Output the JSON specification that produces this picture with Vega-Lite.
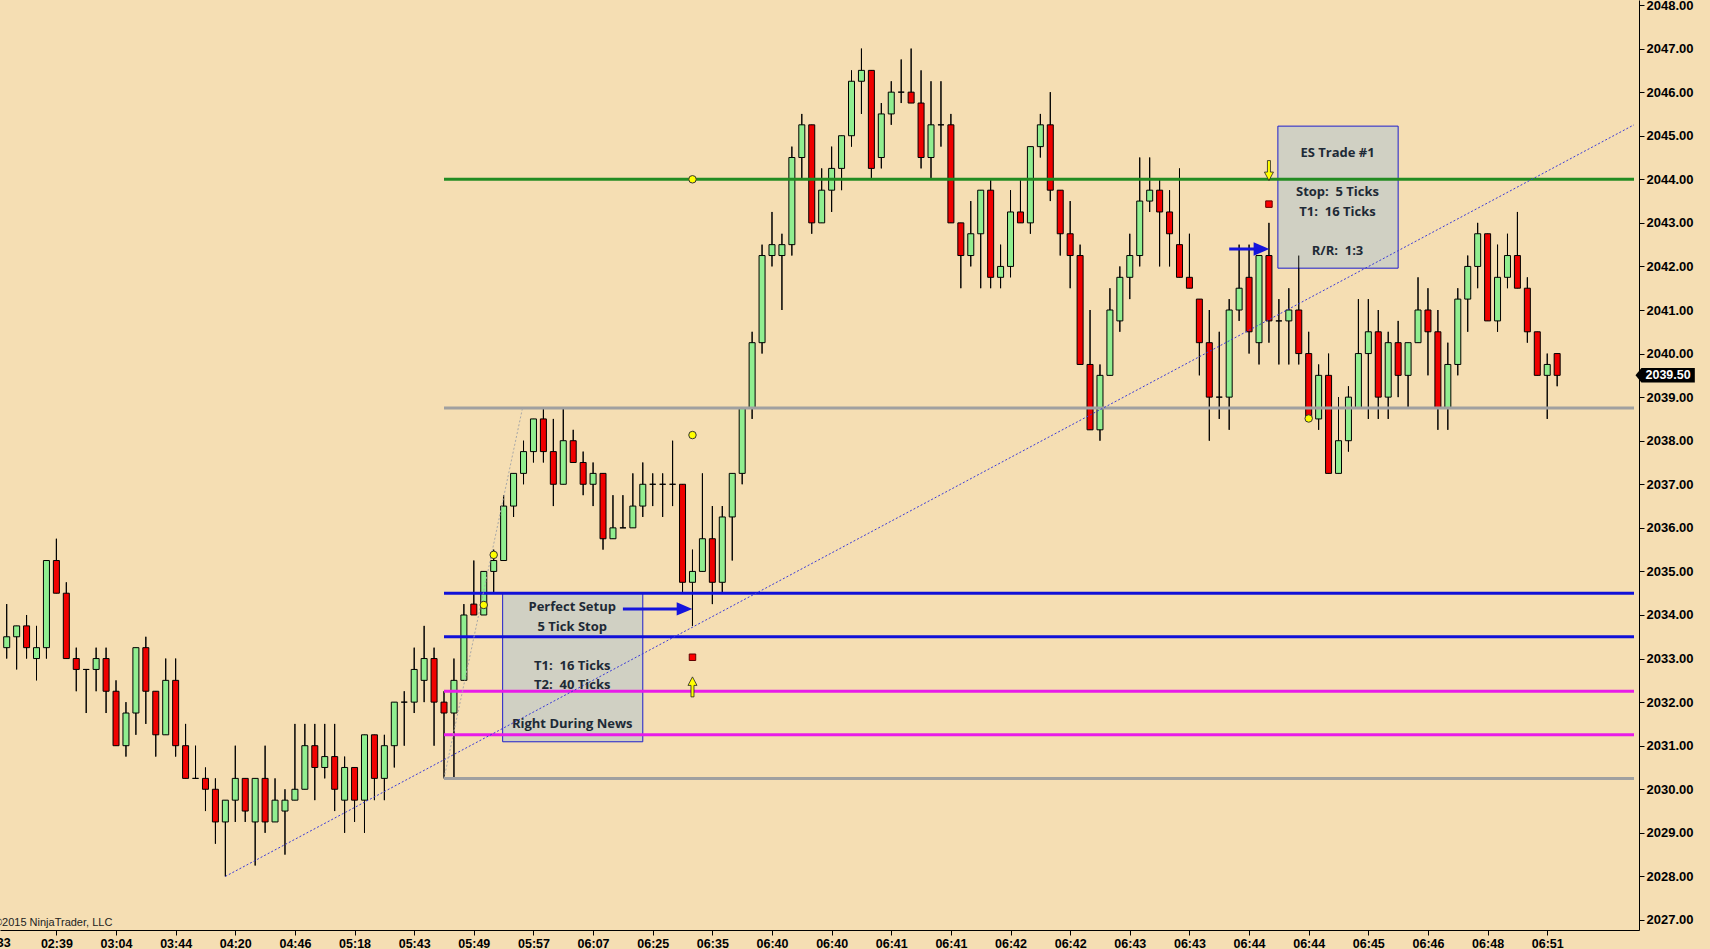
{
  "$schema": "https://vega.github.io/schema/vega-lite/v6.json",
  "width": 1639,
  "height": 930,
  "autosize": {"type": "none"},
  "padding": {"left": 0, "top": 0, "right": 71, "bottom": 19},
  "background": "#F5DEB3",
  "config": {
    "view": {"stroke": null},
    "axis": {
      "title": null, "grid": false,
      "domainColor": "#000000", "tickColor": "#000000", "tickSize": 5,
      "labelFont": "Liberation Sans", "labelFontWeight": "bold", "labelFontSize": 12.5, "labelColor": "#000000",
      "labelFlush": false, "labelOverlap": false, "labelBound": false
    }
  },
  "datasets": {
    "candles": [
      {"i":0,"o":2033.25,"h":2034.25,"l":2033.0,"c":2033.5},
      {"i":1,"o":2033.5,"h":2033.75,"l":2032.75,"c":2033.75},
      {"i":2,"o":2033.75,"h":2034.0,"l":2033.0,"c":2033.25},
      {"i":3,"o":2033.0,"h":2033.75,"l":2032.5,"c":2033.25},
      {"i":4,"o":2033.25,"h":2035.25,"l":2033.0,"c":2035.25},
      {"i":5,"o":2035.25,"h":2035.75,"l":2034.5,"c":2034.5},
      {"i":6,"o":2034.5,"h":2034.75,"l":2033.0,"c":2033.0},
      {"i":7,"o":2033.0,"h":2033.25,"l":2032.25,"c":2032.75},
      {"i":8,"o":2032.75,"h":2032.75,"l":2031.75,"c":2032.75},
      {"i":9,"o":2032.75,"h":2033.25,"l":2032.25,"c":2033.0},
      {"i":10,"o":2033.0,"h":2033.25,"l":2031.75,"c":2032.25},
      {"i":11,"o":2032.25,"h":2032.5,"l":2031.0,"c":2031.0},
      {"i":12,"o":2031.0,"h":2032.0,"l":2030.75,"c":2031.75},
      {"i":13,"o":2031.75,"h":2033.25,"l":2031.25,"c":2033.25},
      {"i":14,"o":2033.25,"h":2033.5,"l":2031.5,"c":2032.25},
      {"i":15,"o":2032.25,"h":2032.25,"l":2030.75,"c":2031.25},
      {"i":16,"o":2031.25,"h":2033.0,"l":2031.25,"c":2032.5},
      {"i":17,"o":2032.5,"h":2033.0,"l":2030.75,"c":2031.0},
      {"i":18,"o":2031.0,"h":2031.5,"l":2030.25,"c":2030.25},
      {"i":19,"o":2030.25,"h":2031.0,"l":2030.25,"c":2030.25},
      {"i":20,"o":2030.25,"h":2030.5,"l":2029.5,"c":2030.0},
      {"i":21,"o":2030.0,"h":2030.25,"l":2028.75,"c":2029.25},
      {"i":22,"o":2029.25,"h":2029.75,"l":2028.0,"c":2029.75},
      {"i":23,"o":2029.75,"h":2031.0,"l":2029.25,"c":2030.25},
      {"i":24,"o":2030.25,"h":2030.25,"l":2029.25,"c":2029.5},
      {"i":25,"o":2029.25,"h":2030.25,"l":2028.25,"c":2030.25},
      {"i":26,"o":2030.25,"h":2031.0,"l":2029.0,"c":2029.25},
      {"i":27,"o":2029.25,"h":2030.25,"l":2029.25,"c":2029.75},
      {"i":28,"o":2029.5,"h":2030.0,"l":2028.5,"c":2029.75},
      {"i":29,"o":2029.75,"h":2031.5,"l":2029.75,"c":2030.0},
      {"i":30,"o":2030.0,"h":2031.5,"l":2030.0,"c":2031.0},
      {"i":31,"o":2031.0,"h":2031.5,"l":2029.75,"c":2030.5},
      {"i":32,"o":2030.5,"h":2031.5,"l":2030.25,"c":2030.75},
      {"i":33,"o":2030.75,"h":2031.5,"l":2029.5,"c":2030.0},
      {"i":34,"o":2029.75,"h":2030.75,"l":2029.0,"c":2030.5},
      {"i":35,"o":2030.5,"h":2030.5,"l":2029.25,"c":2029.75},
      {"i":36,"o":2029.75,"h":2031.25,"l":2029.0,"c":2031.25},
      {"i":37,"o":2031.25,"h":2031.25,"l":2029.75,"c":2030.25},
      {"i":38,"o":2030.25,"h":2031.25,"l":2029.75,"c":2031.0},
      {"i":39,"o":2031.0,"h":2032.0,"l":2030.5,"c":2032.0},
      {"i":40,"o":2032.0,"h":2032.25,"l":2031.0,"c":2032.0},
      {"i":41,"o":2032.0,"h":2033.25,"l":2031.75,"c":2032.75},
      {"i":42,"o":2032.5,"h":2033.75,"l":2032.0,"c":2033.0},
      {"i":43,"o":2033.0,"h":2033.25,"l":2031.0,"c":2032.0},
      {"i":44,"o":2032.0,"h":2032.25,"l":2030.25,"c":2031.75},
      {"i":45,"o":2031.75,"h":2033.0,"l":2030.25,"c":2032.5},
      {"i":46,"o":2032.5,"h":2034.25,"l":2032.5,"c":2034.0},
      {"i":47,"o":2034.25,"h":2035.25,"l":2034.0,"c":2034.0},
      {"i":48,"o":2034.0,"h":2035.0,"l":2034.0,"c":2035.0},
      {"i":49,"o":2035.0,"h":2035.5,"l":2034.5,"c":2035.25},
      {"i":50,"o":2035.25,"h":2036.75,"l":2035.25,"c":2036.5},
      {"i":51,"o":2036.5,"h":2037.25,"l":2036.25,"c":2037.25},
      {"i":52,"o":2037.25,"h":2038.0,"l":2037.0,"c":2037.75},
      {"i":53,"o":2037.75,"h":2038.5,"l":2037.5,"c":2038.5},
      {"i":54,"o":2038.5,"h":2038.75,"l":2037.5,"c":2037.75},
      {"i":55,"o":2037.75,"h":2038.5,"l":2036.5,"c":2037.0},
      {"i":56,"o":2037.0,"h":2038.75,"l":2037.0,"c":2038.0},
      {"i":57,"o":2038.0,"h":2038.25,"l":2037.5,"c":2037.5},
      {"i":58,"o":2037.5,"h":2037.75,"l":2036.75,"c":2037.0},
      {"i":59,"o":2037.0,"h":2037.5,"l":2036.5,"c":2037.25},
      {"i":60,"o":2037.25,"h":2037.25,"l":2035.5,"c":2035.75},
      {"i":61,"o":2035.75,"h":2036.75,"l":2035.75,"c":2036.0},
      {"i":62,"o":2036.0,"h":2036.75,"l":2036.0,"c":2036.0},
      {"i":63,"o":2036.0,"h":2037.25,"l":2036.0,"c":2036.5},
      {"i":64,"o":2036.5,"h":2037.5,"l":2036.25,"c":2037.0},
      {"i":65,"o":2037.0,"h":2037.25,"l":2036.5,"c":2037.0},
      {"i":66,"o":2037.0,"h":2037.25,"l":2036.25,"c":2037.0},
      {"i":67,"o":2037.0,"h":2038.0,"l":2036.5,"c":2037.0},
      {"i":68,"o":2037.0,"h":2037.0,"l":2034.5,"c":2034.75},
      {"i":69,"o":2034.75,"h":2035.5,"l":2033.75,"c":2035.0},
      {"i":70,"o":2035.0,"h":2037.25,"l":2035.0,"c":2035.75},
      {"i":71,"o":2035.75,"h":2036.5,"l":2034.25,"c":2034.75},
      {"i":72,"o":2034.75,"h":2036.5,"l":2034.5,"c":2036.25},
      {"i":73,"o":2036.25,"h":2037.25,"l":2035.25,"c":2037.25},
      {"i":74,"o":2037.25,"h":2038.75,"l":2037.0,"c":2038.75},
      {"i":75,"o":2038.75,"h":2040.5,"l":2038.5,"c":2040.25},
      {"i":76,"o":2040.25,"h":2042.5,"l":2040.0,"c":2042.25},
      {"i":77,"o":2042.25,"h":2043.25,"l":2042.0,"c":2042.5},
      {"i":78,"o":2042.25,"h":2042.75,"l":2041.0,"c":2042.5},
      {"i":79,"o":2042.5,"h":2044.75,"l":2042.25,"c":2044.5},
      {"i":80,"o":2044.5,"h":2045.5,"l":2044.0,"c":2045.25},
      {"i":81,"o":2045.25,"h":2045.25,"l":2042.75,"c":2043.0},
      {"i":82,"o":2043.0,"h":2044.25,"l":2043.0,"c":2043.75},
      {"i":83,"o":2043.75,"h":2044.75,"l":2043.25,"c":2044.25},
      {"i":84,"o":2044.25,"h":2045.0,"l":2043.75,"c":2045.0},
      {"i":85,"o":2045.0,"h":2046.5,"l":2044.75,"c":2046.25},
      {"i":86,"o":2046.25,"h":2047.0,"l":2045.5,"c":2046.5},
      {"i":87,"o":2046.5,"h":2046.5,"l":2044.0,"c":2044.25},
      {"i":88,"o":2044.5,"h":2045.75,"l":2044.25,"c":2045.5},
      {"i":89,"o":2045.5,"h":2046.25,"l":2045.25,"c":2046.0},
      {"i":90,"o":2046.0,"h":2046.75,"l":2045.75,"c":2046.0},
      {"i":91,"o":2046.0,"h":2047.0,"l":2045.75,"c":2045.75},
      {"i":92,"o":2045.75,"h":2046.5,"l":2044.25,"c":2044.5},
      {"i":93,"o":2044.5,"h":2046.25,"l":2044.0,"c":2045.25},
      {"i":94,"o":2045.25,"h":2046.25,"l":2044.75,"c":2045.25},
      {"i":95,"o":2045.25,"h":2045.5,"l":2043.0,"c":2043.0},
      {"i":96,"o":2043.0,"h":2043.0,"l":2041.5,"c":2042.25},
      {"i":97,"o":2042.25,"h":2043.5,"l":2042.0,"c":2042.75},
      {"i":98,"o":2042.75,"h":2043.75,"l":2041.5,"c":2043.75},
      {"i":99,"o":2043.75,"h":2044.0,"l":2041.5,"c":2041.75},
      {"i":100,"o":2041.75,"h":2042.5,"l":2041.5,"c":2042.0},
      {"i":101,"o":2042.0,"h":2043.75,"l":2041.75,"c":2043.25},
      {"i":102,"o":2043.25,"h":2044.0,"l":2043.0,"c":2043.0},
      {"i":103,"o":2043.0,"h":2044.75,"l":2042.75,"c":2044.75},
      {"i":104,"o":2044.75,"h":2045.5,"l":2044.5,"c":2045.25},
      {"i":105,"o":2045.25,"h":2046.0,"l":2043.5,"c":2043.75},
      {"i":106,"o":2043.75,"h":2043.75,"l":2042.25,"c":2042.75},
      {"i":107,"o":2042.75,"h":2043.5,"l":2041.5,"c":2042.25},
      {"i":108,"o":2042.25,"h":2042.5,"l":2039.75,"c":2039.75},
      {"i":109,"o":2039.75,"h":2041.0,"l":2038.25,"c":2038.25},
      {"i":110,"o":2038.25,"h":2039.75,"l":2038.0,"c":2039.5},
      {"i":111,"o":2039.5,"h":2041.5,"l":2039.5,"c":2041.0},
      {"i":112,"o":2040.75,"h":2042.0,"l":2040.5,"c":2041.75},
      {"i":113,"o":2041.75,"h":2042.75,"l":2041.25,"c":2042.25},
      {"i":114,"o":2042.25,"h":2044.5,"l":2042.0,"c":2043.5},
      {"i":115,"o":2043.5,"h":2044.5,"l":2043.25,"c":2043.75},
      {"i":116,"o":2043.75,"h":2044.0,"l":2042.0,"c":2043.25},
      {"i":117,"o":2043.25,"h":2043.75,"l":2042.0,"c":2042.75},
      {"i":118,"o":2042.5,"h":2044.25,"l":2041.75,"c":2041.75},
      {"i":119,"o":2041.75,"h":2042.75,"l":2041.5,"c":2041.5},
      {"i":120,"o":2041.25,"h":2041.25,"l":2039.5,"c":2040.25},
      {"i":121,"o":2040.25,"h":2041.0,"l":2038.0,"c":2039.0},
      {"i":122,"o":2039.0,"h":2040.5,"l":2038.5,"c":2039.0},
      {"i":123,"o":2039.0,"h":2041.25,"l":2038.25,"c":2041.0},
      {"i":124,"o":2041.0,"h":2042.5,"l":2040.75,"c":2041.5},
      {"i":125,"o":2041.75,"h":2042.5,"l":2040.0,"c":2040.5},
      {"i":126,"o":2040.25,"h":2042.25,"l":2039.75,"c":2042.25},
      {"i":127,"o":2042.25,"h":2043.0,"l":2040.25,"c":2040.75},
      {"i":128,"o":2040.75,"h":2041.25,"l":2039.75,"c":2040.75},
      {"i":129,"o":2040.75,"h":2041.5,"l":2039.75,"c":2041.0},
      {"i":130,"o":2041.0,"h":2042.25,"l":2039.75,"c":2040.0},
      {"i":131,"o":2040.0,"h":2040.5,"l":2038.5,"c":2038.5},
      {"i":132,"o":2038.5,"h":2039.75,"l":2038.25,"c":2039.5},
      {"i":133,"o":2039.5,"h":2040.0,"l":2037.25,"c":2037.25},
      {"i":134,"o":2037.25,"h":2039.0,"l":2037.25,"c":2038.0},
      {"i":135,"o":2038.0,"h":2039.25,"l":2037.75,"c":2039.0},
      {"i":136,"o":2038.75,"h":2041.25,"l":2038.75,"c":2040.0},
      {"i":137,"o":2040.0,"h":2041.25,"l":2038.5,"c":2040.5},
      {"i":138,"o":2040.5,"h":2041.0,"l":2038.5,"c":2039.0},
      {"i":139,"o":2039.0,"h":2040.5,"l":2038.5,"c":2040.25},
      {"i":140,"o":2040.25,"h":2040.75,"l":2039.0,"c":2039.5},
      {"i":141,"o":2039.5,"h":2040.25,"l":2038.75,"c":2040.25},
      {"i":142,"o":2040.25,"h":2041.75,"l":2040.25,"c":2041.0},
      {"i":143,"o":2041.0,"h":2041.5,"l":2039.5,"c":2040.5},
      {"i":144,"o":2040.5,"h":2041.0,"l":2038.25,"c":2038.75},
      {"i":145,"o":2038.75,"h":2040.25,"l":2038.25,"c":2039.75},
      {"i":146,"o":2039.75,"h":2041.5,"l":2039.5,"c":2041.25},
      {"i":147,"o":2041.25,"h":2042.25,"l":2040.5,"c":2042.0},
      {"i":148,"o":2042.0,"h":2043.0,"l":2041.5,"c":2042.75},
      {"i":149,"o":2042.75,"h":2042.75,"l":2040.75,"c":2040.75},
      {"i":150,"o":2040.75,"h":2042.5,"l":2040.5,"c":2041.75},
      {"i":151,"o":2041.75,"h":2042.75,"l":2041.5,"c":2042.25},
      {"i":152,"o":2042.25,"h":2043.25,"l":2041.5,"c":2041.5},
      {"i":153,"o":2041.5,"h":2041.75,"l":2040.25,"c":2040.5},
      {"i":154,"o":2040.5,"h":2040.5,"l":2039.5,"c":2039.5},
      {"i":155,"o":2039.5,"h":2040.0,"l":2038.5,"c":2039.75},
      {"i":156,"o":2040.0,"h":2040.0,"l":2039.25,"c":2039.5}
    ],
    "levels": [
      {"from":44,"p":2044.0,"kind":"resistance"},
      {"from":44,"p":2038.75,"kind":"pivot"},
      {"from":44,"p":2034.5,"kind":"entry"},
      {"from":44,"p":2033.5,"kind":"entry"},
      {"from":44,"p":2032.25,"kind":"target"},
      {"from":44,"p":2031.25,"kind":"target"},
      {"from":44,"p":2030.25,"kind":"pivot"}
    ],
    "trends": [
      {"x":22,"y":2028.0,"x2":163.73,"y2":2045.25,"kind":"trend"},
      {"x":44,"y":2030.25,"x2":51.9,"y2":2038.75,"kind":"fib"}
    ],
    "boxes": [
      {"x0":49.9,"x1":64.0,"p0":2034.51,"p1":2031.09},
      {"x0":127.9,"x1":140.0,"p0":2045.22,"p1":2041.96}
    ],
    "notes": [
      {"x":56.9,"p":2034.18,"t":"Perfect Setup"},
      {"x":56.9,"p":2033.72,"t":"5 Tick Stop"},
      {"x":56.9,"p":2032.83,"t":"T1:\u00a0 16 Ticks"},
      {"x":56.9,"p":2032.39,"t":"T2:\u00a0 40 Ticks"},
      {"x":56.9,"p":2031.5,"t":"Right During News"},
      {"x":133.9,"p":2044.6,"t":"ES Trade #1"},
      {"x":133.9,"p":2043.71,"t":"Stop:\u00a0 5 Ticks"},
      {"x":133.9,"p":2043.25,"t":"T1:\u00a0 16 Ticks"},
      {"x":133.9,"p":2042.35,"t":"R/R:\u00a0 1:3"}
    ],
    "pointers": [
      {"x0":62.0,"xh":68.2,"p":2034.14},
      {"x0":123.0,"xh":126.25,"p":2042.4}
    ],
    "dots": [
      {"i":48,"p":2034.23},
      {"i":49,"p":2035.38},
      {"i":69,"p":2038.13},
      {"i":69,"p":2044.0},
      {"i":131,"p":2038.51}
    ],
    "stops": [
      {"i":69,"p":2033.03},
      {"i":127,"p":2043.43}
    ],
    "signals": [
      {"i":69,"p":2032.35,"dir":"up"},
      {"i":127,"p":2044.2,"dir":"down"}
    ],
    "last": [
      {"p":2039.5}
    ]
  },
  "layer": [
    {
      "data": {"name": "candles"},
      "mark": {"type": "rule", "color": "#000000", "strokeWidth": 1},
      "encoding": {
        "x": {
          "field": "i", "type": "quantitative",
          "scale": {"domain": [-0.17, 163.73], "nice": false, "zero": false},
          "axis": {
            "orient": "bottom",
            "values": [5,11,17,23,29,35,41,47,53,59,65,71,77,83,89,95,101,107,113,119,125,131,137,143,149,155],
            "labelExpr": "['02:39','03:04','03:44','04:20','04:46','05:18','05:43','05:49','05:57','06:07','06:25','06:35','06:40','06:40','06:41','06:41','06:42','06:42','06:43','06:43','06:44','06:44','06:45','06:46','06:48','06:51'][(datum.value - 5) / 6]",
            "labelPadding": 2
          }
        },
        "y": {
          "field": "l", "type": "quantitative",
          "scale": {"domain": [2026.77, 2048.115], "nice": false, "zero": false},
          "axis": {
            "orient": "right",
            "values": [2027,2028,2029,2030,2031,2032,2033,2034,2035,2036,2037,2038,2039,2040,2041,2042,2043,2044,2045,2046,2047,2048],
            "format": ".2f", "labelFontSize": 13, "labelPadding": 2
          }
        },
        "y2": {"field": "h"}
      }
    },
    {
      "data": {"name": "boxes"},
      "mark": {"type": "rect", "fill": "#D0D0C3", "stroke": "#1E1ECC", "strokeWidth": 1},
      "encoding": {
        "x": {"field": "x0", "type": "quantitative"},
        "x2": {"field": "x1"},
        "y": {"field": "p0", "type": "quantitative"},
        "y2": {"field": "p1"}
      }
    },
    {
      "data": {"name": "candles"},
      "mark": {"type": "rule", "color": "#000000", "strokeWidth": 1},
      "encoding": {
        "x": {"field": "i", "type": "quantitative"},
        "y": {"field": "l", "type": "quantitative"},
        "y2": {"field": "h"}
      }
    },
    {
      "data": {"name": "candles"},
      "mark": {"type": "bar", "width": 6, "stroke": "#000000", "strokeWidth": 1},
      "encoding": {
        "x": {"field": "i", "type": "quantitative"},
        "y": {"field": "o", "type": "quantitative"},
        "y2": {"field": "c"},
        "fill": {"condition": {"test": "datum.c >= datum.o", "value": "#90EE90"}, "value": "#F00000"}
      }
    },
    {
      "data": {"name": "levels"},
      "mark": {"type": "rule", "strokeWidth": 3},
      "encoding": {
        "x": {"field": "from", "type": "quantitative"},
        "x2": {"datum": 163.73},
        "y": {"field": "p", "type": "quantitative"},
        "stroke": {
          "field": "kind", "type": "nominal", "legend": null,
          "scale": {"domain": ["resistance","pivot","entry","target","trend","fib"], "range": ["#228B22","#A0A0A0","#1010D8","#E81CE8","#3A3AD8","#A8A8A8"]}
        }
      }
    },
    {
      "data": {"name": "trends"},
      "mark": {"type": "rule", "strokeWidth": 1, "strokeDash": [2, 2]},
      "encoding": {
        "x": {"field": "x", "type": "quantitative"},
        "x2": {"field": "x2"},
        "y": {"field": "y", "type": "quantitative"},
        "y2": {"field": "y2"},
        "stroke": {"field": "kind", "type": "nominal", "legend": null}
      }
    },
    {
      "data": {"name": "pointers"},
      "mark": {"type": "rule", "strokeWidth": 3, "color": "#1414DC"},
      "encoding": {
        "x": {"field": "x0", "type": "quantitative"},
        "x2": {"field": "xh"},
        "y": {"field": "p", "type": "quantitative"}
      }
    },
    {
      "data": {"name": "pointers"},
      "mark": {"type": "point", "filled": true, "color": "#1414DC", "opacity": 1, "size": 246, "shape": "M-1,-0.85L1,0L-1,0.85Z"},
      "encoding": {
        "x": {"field": "xh", "type": "quantitative"},
        "y": {"field": "p", "type": "quantitative"}
      }
    },
    {
      "data": {"name": "dots"},
      "mark": {"type": "point", "shape": "circle", "size": 56, "filled": true, "fill": "#FFFF00", "stroke": "#333333", "strokeWidth": 1, "opacity": 1},
      "encoding": {
        "x": {"field": "i", "type": "quantitative"},
        "y": {"field": "p", "type": "quantitative"}
      }
    },
    {
      "data": {"name": "stops"},
      "mark": {"type": "point", "shape": "square", "size": 42, "filled": true, "fill": "#FF0000", "stroke": "#600000", "strokeWidth": 1, "opacity": 1},
      "encoding": {
        "x": {"field": "i", "type": "quantitative"},
        "y": {"field": "p", "type": "quantitative"}
      }
    },
    {
      "data": {"name": "signals"},
      "mark": {"type": "point", "size": 400, "filled": true, "fill": "#FFFF00", "stroke": "#222222", "strokeWidth": 0.8, "opacity": 1},
      "encoding": {
        "x": {"field": "i", "type": "quantitative"},
        "y": {"field": "p", "type": "quantitative"},
        "shape": {
          "field": "dir", "type": "nominal", "legend": null,
          "scale": {"domain": ["up", "down"], "range": ["M-0.15,1L0.15,1L0.15,-0.15L0.45,-0.15L0,-1L-0.45,-0.15L-0.15,-0.15Z", "M-0.15,-1L0.15,-1L0.15,0.15L0.45,0.15L0,1L-0.45,0.15L-0.15,0.15Z"]}
        }
      }
    },
    {
      "data": {"name": "notes"},
      "mark": {"type": "text", "font": "Open Sans", "fontWeight": "bold", "fontSize": 13, "color": "#1E2A36", "align": "center", "baseline": "middle"},
      "encoding": {
        "x": {"field": "x", "type": "quantitative"},
        "y": {"field": "p", "type": "quantitative"},
        "text": {"field": "t"}
      }
    },
    {
      "data": {"name": "last"},
      "mark": {"type": "point", "filled": true, "color": "#000000", "opacity": 1, "size": 3516, "shape": "M-1,0L-0.8,-0.245L1,-0.245L1,0.245L-0.8,0.245Z"},
      "encoding": {
        "x": {"datum": 166.865, "type": "quantitative"},
        "y": {"field": "p", "type": "quantitative"}
      }
    },
    {
      "data": {"name": "last"},
      "mark": {"type": "text", "font": "Liberation Sans", "fontWeight": "bold", "fontSize": 12.5, "color": "#FFFFFF", "align": "center", "baseline": "middle"},
      "encoding": {
        "x": {"datum": 167.16, "type": "quantitative"},
        "y": {"field": "p", "type": "quantitative"},
        "text": {"field": "p", "format": ".2f"}
      }
    },
    {
      "data": {"values": [{"label": "02:33"}]},
      "mark": {"type": "text", "font": "Liberation Sans", "fontWeight": "bold", "fontSize": 12.5, "color": "#000000", "align": "right", "baseline": "middle"},
      "encoding": {
        "x": {"datum": 0.4, "type": "quantitative"},
        "y": {"datum": 2026.47, "type": "quantitative"},
        "text": {"field": "label"}
      }
    },
    {
      "data": {"values": [{"label": "\u00a92015 NinjaTrader, LLC"}]},
      "mark": {"type": "text", "font": "Liberation Sans", "fontSize": 11, "color": "#222222", "align": "right", "baseline": "middle"},
      "encoding": {
        "x": {"datum": 10.63, "type": "quantitative"},
        "y": {"datum": 2026.92, "type": "quantitative"},
        "text": {"field": "label"}
      }
    }
  ]
}
